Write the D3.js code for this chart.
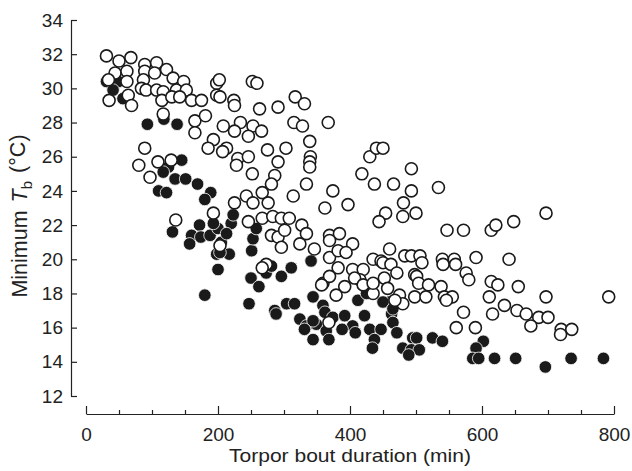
<!DOCTYPE html>
<html>
<head>
<meta charset="utf-8">
<script src="https://cdn.jsdelivr.net/npm/d3@7"></script>
<style>
  body { margin: 0; background: #fff; }
  text { font-family: "Liberation Sans", Arial, Helvetica, sans-serif; fill: #222; }
</style>
</head>
<body>
<div id="chart"></div>
<script>
// Torpor bout duration (min) vs minimum Tb (°C)

// open circles: [duration, Tb]
const openPoints = [
  [31,31.9],[50,31.6],[68,31.8],[44,30.9],[62,31.0],[34,30.5],[62,30.4],[35,29.3],[64,29.6],[69,29.0],
  [89,31.4],[107,31.5],[89,31.0],[122,31.1],[104,30.9],[132,30.6],[148,30.4],[87,30.5],[84,30.0],[91,29.9],
  [107,29.9],[117,29.8],[137,29.9],[152,29.9],[115,29.3],[130,29.5],[142,29.5],[160,29.3],[175,29.3],[117,28.5],
  [165,28.1],[181,28.4],[165,27.4],[198,30.3],[198,29.6],[193,27.0],[185,26.5],[89,26.5],
  [80,25.5],[109,25.7],[129,25.8],[97,24.8],[136,22.3],[193,22.7],[203,20.8],
  [202,30.5],[252,30.4],[259,30.3],[203,29.5],[224,29.3],[225,29.0],[263,28.8],[291,28.9],[317,29.5],[331,29.1],
  [208,27.8],[234,28.0],[253,27.8],[225,27.5],[246,27.2],[266,27.5],[315,28.0],[328,27.8],[367,28.0],[213,26.5],
  [207,26.3],[230,25.9],[246,26.0],[275,26.4],[303,26.5],[339,26.9],[291,25.7],[340,26.0],[339,25.7],[339,25.4],
  [228,25.5],[252,25.0],[286,24.9],[281,24.4],[334,24.4],[267,23.9],[243,23.7],[314,23.7],[374,24.0],[430,26.0],
  [440,26.5],[418,25.0],[437,24.4],
  [450,26.5],[493,25.3],[466,24.4],[493,24.0],[534,24.2],[481,23.3],[454,22.7],[444,22.2],[480,22.5],[500,22.7],
  [547,21.7],[572,21.7],[614,21.7],[621,22.0],[648,22.2],[697,22.7],[460,20.6],[483,20.2],[493,20.2],[506,20.2],
  [540,20.0],[558,20.0],[591,20.1],[641,20.0],[509,19.8],
  [253,23.3],[276,23.3],[225,23.3],[362,23.0],[397,23.2],[246,22.2],[267,22.4],[283,22.5],[296,22.4],[308,22.4],
  [327,22.0],[281,21.4],[291,21.3],[301,21.7],[324,20.9],[334,21.5],[296,20.7],[346,20.6],[369,21.4],[384,21.5],
  [369,21.1],[404,20.9],[369,20.1],[382,20.5],[394,20.4],[382,19.5],[404,19.4],[420,19.4],[435,20.0],[447,19.9],
  [392,18.4],[379,17.9],[415,18.8],[435,18.0],[452,18.9],[359,18.6],[369,19.0],[273,19.7],[267,19.5],[368,16.3],
  [357,18.5],[407,18.9],[420,18.5],[435,18.6],[475,17.9],[498,19.1],
  [450,19.8],[462,19.7],[471,19.2],[501,19.0],[504,18.6],[519,18.5],[457,18.3],[538,18.4],[541,19.7],[560,19.7],
  [576,19.2],[580,18.8],[498,17.8],[515,17.8],[543,17.8],[555,17.8],[546,17.6],[480,17.4],[468,17.6],[614,18.7],
  [624,18.5],[655,18.4],[697,17.8],[792,17.8],[611,17.8],[634,17.3],[616,16.8],[653,17.0],[667,16.8],[686,16.6],
  [700,16.6],[674,16.1],[720,15.9],[719,15.6],[736,15.9],[572,16.9],[561,16.0],[590,16.0]
];

// filled circles: [duration, Tb]
const filledPoints = [
  [31,30.4],[49,30.4],[41,29.9],[56,29.4],[93,27.9],[118,28.2],[138,27.9],[145,25.8],
  [125,25.4],[117,25.1],[135,24.7],[151,24.7],[169,24.4],[110,24.0],[122,23.9],[189,23.9],[180,23.5],[131,21.6],
  [172,22.0],[160,21.4],[157,20.9],[174,21.3],[188,21.4],[200,21.8],[198,20.3],[200,19.4],[180,17.9],
  [193,22.1],[220,22.1],[223,22.6],[205,21.0],[213,21.5],[217,20.3],[203,20.4],[251,20.5],[253,21.2],
  [258,21.8],[250,18.9],[262,18.4],[247,17.4],[273,19.2],[281,19.6],[296,19.0],[311,19.5],[286,17.0],[304,17.4],
  [316,17.4],[324,16.5],[341,19.9],[344,17.8],[359,17.3],[362,16.9],[374,16.6],[334,16.1],[349,16.2],[364,15.8],
  [392,16.7],[404,16.1],[422,16.7],[412,17.6],[430,15.9],[447,15.9],
  [288,16.8],[344,16.4],[331,15.9],[344,15.3],[368,15.3],[388,15.9],[408,15.7],[425,18.0],[437,15.3],[434,14.8],
  [463,16.8],[465,16.3],
  [460,17.5],[450,17.5],[465,17.1],[471,15.7],[495,15.4],[501,15.4],[525,15.4],[540,15.2],[480,14.8],[493,14.7],
  [505,14.7],[489,14.4],[602,15.2],[591,14.8],[586,14.2],[595,14.2],[619,14.2],[651,14.2],[696,13.7],[735,14.2],
  [784,14.2]
];

const xMajorTicks = [0, 200, 400, 600, 800];
const xMinorTicks = [50, 100, 150, 250, 300, 350, 450, 500, 550, 650, 700, 750];
const yTicks = [12, 14, 16, 18, 20, 22, 24, 26, 28, 30, 32, 34];

const width = 632, height = 471;
const fontSize = "19px";

const svg = d3.select("#chart")
  .append("svg")
  .attr("width", width)
  .attr("height", height);

// Scales
const x = d3.scaleLinear().domain([0, 800]).range([86, 614]);
const y = d3.scaleLinear().domain([12, 34]).range([396, 20]);

const axisY = 414;
const axisX = 71;

// x axis: major ticks with labels, minor ticks without
svg.append("g")
  .attr("transform", `translate(0,${axisY})`)
  .call(d3.axisBottom(x).tickValues(xMajorTicks).tickSizeInner(-8).tickSizeOuter(0).tickPadding(14));

svg.append("g")
  .attr("transform", `translate(0,${axisY})`)
  .call(d3.axisBottom(x).tickValues(xMinorTicks).tickSizeInner(-4).tickSizeOuter(0).tickFormat(""))
  .select(".domain").remove();

// y axis: ticks point inward, labels on the left
svg.append("g")
  .attr("transform", `translate(${axisX},0)`)
  .call(d3.axisLeft(y).tickValues(yTicks).tickSizeInner(-6).tickSizeOuter(0).tickPadding(8));

svg.selectAll(".domain, .tick line")
  .attr("stroke", "#222")
  .attr("stroke-width", 1.2);

svg.selectAll(".tick text")
  .attr("font-size", fontSize)
  .attr("fill", "#222")
  .style("font-family", '"Liberation Sans", Arial, Helvetica, sans-serif');

// Axis titles
svg.append("text")
  .attr("x", 350)
  .attr("y", 462)
  .attr("text-anchor", "middle")
  .attr("font-size", fontSize)
  .attr("textLength", 242)
  .attr("lengthAdjust", "spacingAndGlyphs")
  .text("Torpor bout duration (min)");

const yTitle = svg.append("text")
  .attr("transform", "translate(27,216) rotate(-90)")
  .attr("text-anchor", "middle")
  .attr("font-size", "21.5px");
yTitle.append("tspan").text("Minimum");
yTitle.append("tspan").attr("dx", 8).attr("font-style", "italic").text("T");
yTitle.append("tspan").attr("font-size", "15px").attr("dy", "0.3em").text("b");
yTitle.append("tspan").attr("dx", 8).attr("dy", "-0.3em").text("(°C)");

// Points
svg.append("g")
  .selectAll("circle")
  .data(filledPoints)
  .enter()
  .append("circle")
  .attr("cx", d => x(d[0]))
  .attr("cy", d => y(d[1]))
  .attr("r", 6.3)
  .attr("fill", "#1a1a1a")
  .attr("stroke", "#fff")
  .attr("stroke-width", 0.8);

svg.append("g")
  .selectAll("circle")
  .data(openPoints)
  .enter()
  .append("circle")
  .attr("cx", d => x(d[0]))
  .attr("cy", d => y(d[1]))
  .attr("r", 6)
  .attr("fill", "#fff")
  .attr("stroke", "#1a1a1a")
  .attr("stroke-width", 1.6);
</script>
</body>
</html>
